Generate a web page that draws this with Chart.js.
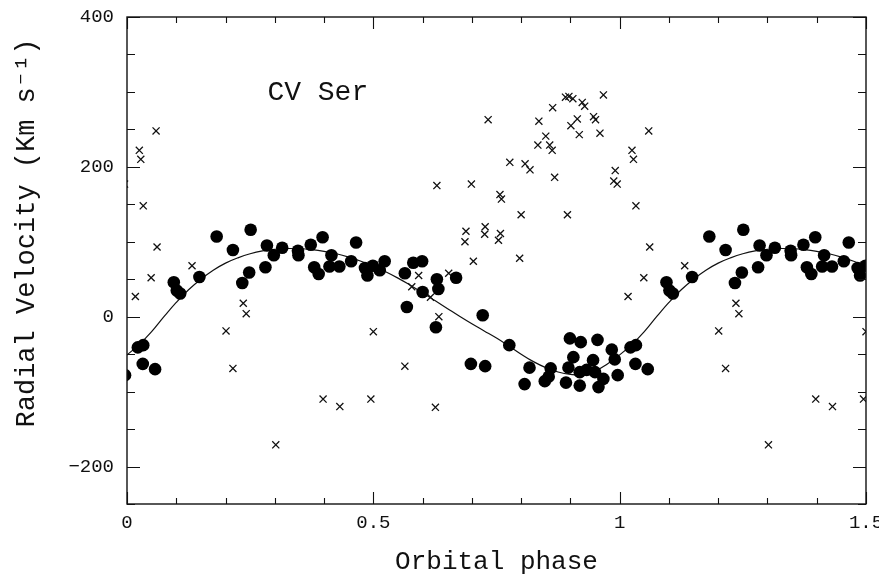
<!DOCTYPE html>
<html>
<head>
<meta charset="utf-8">
<script src="https://cdn.jsdelivr.net/npm/chart.js@4.4.1/dist/chart.umd.min.js"></script>
<style>
	html, body { margin: 0; padding: 0; background: #fff; }
	#wrap { width: 879px; height: 575px; }
</style>
</head>
<body>
<div id="wrap"><canvas id="grafico" width="879" height="575"></canvas></div>
<script>

// filled dots (phase 0-1), km/s
var dotPhase = [0.022, 0.033, 0.032, 0.057, 0.095, 0.101, 0.108, 0.147, 0.182, 0.215,
	0.234, 0.248, 0.251, 0.281, 0.284, 0.298, 0.315, 0.347, 0.348, 0.373,
	0.380, 0.389, 0.397, 0.411, 0.415, 0.431, 0.455, 0.465, 0.483, 0.488,
	0.499, 0.513, 0.523, 0.564, 0.568, 0.581, 0.599, 0.600, 0.627, 0.629,
	0.632, 0.668, 0.698, 0.722, 0.727, 0.776, 0.807, 0.817, 0.848, 0.856,
	0.860, 0.891, 0.896, 0.899, 0.906, 0.919, 0.919, 0.921, 0.933, 0.946,
	0.950, 0.955, 0.957, 0.967, 0.984, 0.990, 0.996];
var dotVel = [-41, -38, -63, -70, 46, 35, 31, 53, 107, 89,
	45, 59, 116, 66, 95, 82, 92, 88, 82, 96,
	66, 57, 106, 67, 82, 67, 74, 99, 65, 55,
	68, 62, 74, 58, 13, 72, 74, 33, -14, 50,
	37, 52, -63, 2, -66, -38, -90, -68, -86, -80,
	-69, -88, -68, -29, -54, -74, -92, -34, -71, -58,
	-74, -31, -94, -83, -44, -57, -78];

// crosses (phase 0-1), km/s
var crossPhase = [0.017, 0.025, 0.028, 0.033, 0.049, 0.059, 0.061, 0.132, 0.201, 0.215,
	0.236, 0.242, 0.302, 0.398, 0.432, 0.495, 0.500, 0.564, 0.578, 0.592,
	0.616, 0.626, 0.629, 0.633, 0.653, 0.686, 0.688, 0.699, 0.703, 0.726,
	0.727, 0.733, 0.754, 0.757, 0.758, 0.760, 0.777, 0.797, 0.800, 0.808,
	0.818, 0.834, 0.836, 0.850, 0.858, 0.863, 0.864, 0.868, 0.890, 0.894,
	0.897, 0.901, 0.905, 0.914, 0.918, 0.924, 0.929, 0.947, 0.951, 0.960,
	0.967, 0.988, 0.991, 0.995];
var crossVel = [27, 222, 210, 148, 52, 248, 93, 68, -19, -69,
	18, 4, -171, -110, -120, -110, -20, -66, 40, 55,
	26, -121, 175, 0, 58, 100, 114, 177, 74, 110,
	120, 263, 102, 163, 111, 157, 206, 78, 136, 204,
	196, 229, 261, 241, 229, 222, 279, 186, 293, 136,
	294, 255, 291, 264, 243, 286, 281, 267, 263, 245,
	296, 181, 195, 177];

// fitted curve, every 0.025 in phase
var fitPhase = [0, 0.025, 0.05, 0.075, 0.1, 0.125, 0.15, 0.175, 0.2, 0.225,
	0.25, 0.275, 0.3, 0.325, 0.35, 0.375, 0.4, 0.425, 0.45, 0.475,
	0.5, 0.525, 0.55, 0.575, 0.6, 0.625, 0.65, 0.675, 0.7, 0.725,
	0.75, 0.775, 0.8, 0.825, 0.85, 0.875, 0.9, 0.925, 0.95, 0.975];
var fitVel = [-51, -37, -20, 0, 19, 36, 50, 62, 71.5, 78.5,
	84, 87.8, 90, 91, 90.7, 89.5, 87.3, 84, 79.5, 74,
	67.5, 60, 51.5, 42, 32, 21.5, 11, 0.5, -9.5, -19,
	-28.5, -39, -50, -60, -68, -73.8, -77, -77.6, -72.5, -63];

var xLabels = [0, 0.5, 1, 1.5];
var yLabels = [-200, 0, 200, 400];

// phase-folded: repeat the cycle one phase left and right
function dobrar(ph, v) {
	var out = [];
	for (var k = -1; k <= 1; k++) {
		for (var i = 0; i < ph.length; i++) {
			var x = ph[i] + k;
			if (x < -0.03 || x > 1.53) continue;
			out.push({x: x, y: v[i]});
		}
	}
	out.sort(function(a, b){ return a.x - b.x; });
	return out;
}

var mono = '"Liberation Mono", "DejaVu Sans Mono", monospace';

var moldura = {
	id: 'moldura',
	afterDraw: function(chart){
		var ctx = chart.ctx, a = chart.chartArea;
		var sx = chart.scales.x, sy = chart.scales.y;
		ctx.save();
		ctx.strokeStyle = '#111';
		ctx.lineWidth = 1.4;
		ctx.strokeRect(a.left, a.top, a.right - a.left, a.bottom - a.top);
		ctx.lineWidth = 1.1;
		ctx.beginPath();
		for (var i = 0; i <= 15; i++) {
			var px = Math.round(sx.getPixelForValue(i / 10)) + 0.5;
			var len = (i % 5 === 0) ? 12 : 6;
			ctx.moveTo(px, a.bottom); ctx.lineTo(px, a.bottom - len);
			ctx.moveTo(px, a.top); ctx.lineTo(px, a.top + len);
		}
		for (var v = -250; v <= 400; v += 50) {
			var py = Math.round(sy.getPixelForValue(v)) + 0.5;
			var l2 = (v % 200 === 0) ? 13 : 8;
			ctx.moveTo(a.left, py); ctx.lineTo(a.left + l2, py);
			ctx.moveTo(a.right, py); ctx.lineTo(a.right - l2, py);
		}
		ctx.stroke();
		ctx.fillStyle = '#111';
		ctx.font = '28px ' + mono;
		ctx.textBaseline = 'alphabetic';
		ctx.fillText('CV Ser', sx.getPixelForValue(0.285), sy.getPixelForValue(289));

		// y axis title
		ctx.translate(34, 233);
		ctx.rotate(-Math.PI / 2);
		ctx.textAlign = 'center';
		ctx.font = '27px ' + mono;
		ctx.fillText('Radial Velocity (Km s\u207B\u00B9)', 0, 0);
		ctx.restore();
	}
};

function exibirGrafico(){

	var data = {
		datasets: [
			{
				label: 'curva',
				type: 'line',
				data: dobrar(fitPhase, fitVel),
				borderColor: '#111',
				borderWidth: 1.2,
				pointRadius: 0,
				tension: 0.4,
				fill: false,
				order: 3
			},
			{
				label: 'cruzes',
				data: dobrar(crossPhase, crossVel),
				pointStyle: 'crossRot',
				pointRadius: 5,
				borderColor: '#111',
				borderWidth: 1.3,
				order: 2
			},
			{
				label: 'pontos',
				data: dobrar(dotPhase, dotVel),
				pointStyle: 'circle',
				pointRadius: 6.3,
				backgroundColor: '#000',
				borderColor: '#000',
				borderWidth: 0,
				order: 1
			}
		]
	};

	var options = {
		responsive: false,
		animation: false,
		devicePixelRatio: 1,
		layout: { padding: { top: 17, right: 13, left: 0, bottom: 0 } },
		plugins: {
			legend: { display: false },
			tooltip: { enabled: false }
		},
		scales: {
			x: {
				type: 'linear',
				min: 0,
				max: 1.5,
				afterFit: function(s){
					s.height = 71;
					s.paddingLeft = 0;
					s.paddingRight = 0;
				},
				grid: { display: false, drawTicks: false },
				border: { display: false },
				afterBuildTicks: function(s){
					s.ticks = xLabels.map(function(v){ return {value: v}; });
				},
				ticks: {
					autoSkip: false,
					maxRotation: 0,
					padding: 8,
					color: '#111',
					font: { family: mono, size: 19 },
					callback: function(v){ return String(v); }
				},
				title: {
					display: true,
					text: 'Orbital phase',
					color: '#111',
					font: { family: mono, size: 26 },
					padding: { top: 0, bottom: -3 }
				}
			},
			y: {
				type: 'linear',
				min: -250,
				max: 400,
				afterFit: function(s){
					s.width = 127;
					s.paddingTop = 0;
					s.paddingBottom = 0;
				},
				grid: { display: false, drawTicks: false },
				border: { display: false },
				afterBuildTicks: function(s){
					s.ticks = yLabels.map(function(v){ return {value: v}; });
				},
				ticks: {
					padding: 13,
					color: '#111',
					font: { family: mono, size: 19 },
					callback: function(v){ return v < 0 ? '\u2212' + Math.abs(v) : String(v); }
				},
				title: { display: false }
			}
		}
	};

	var ctx = document.getElementById('grafico').getContext('2d');
	new Chart(ctx, {type: 'scatter', data: data, options: options, plugins: [moldura]});
}

exibirGrafico();
</script>
</body>
</html>
